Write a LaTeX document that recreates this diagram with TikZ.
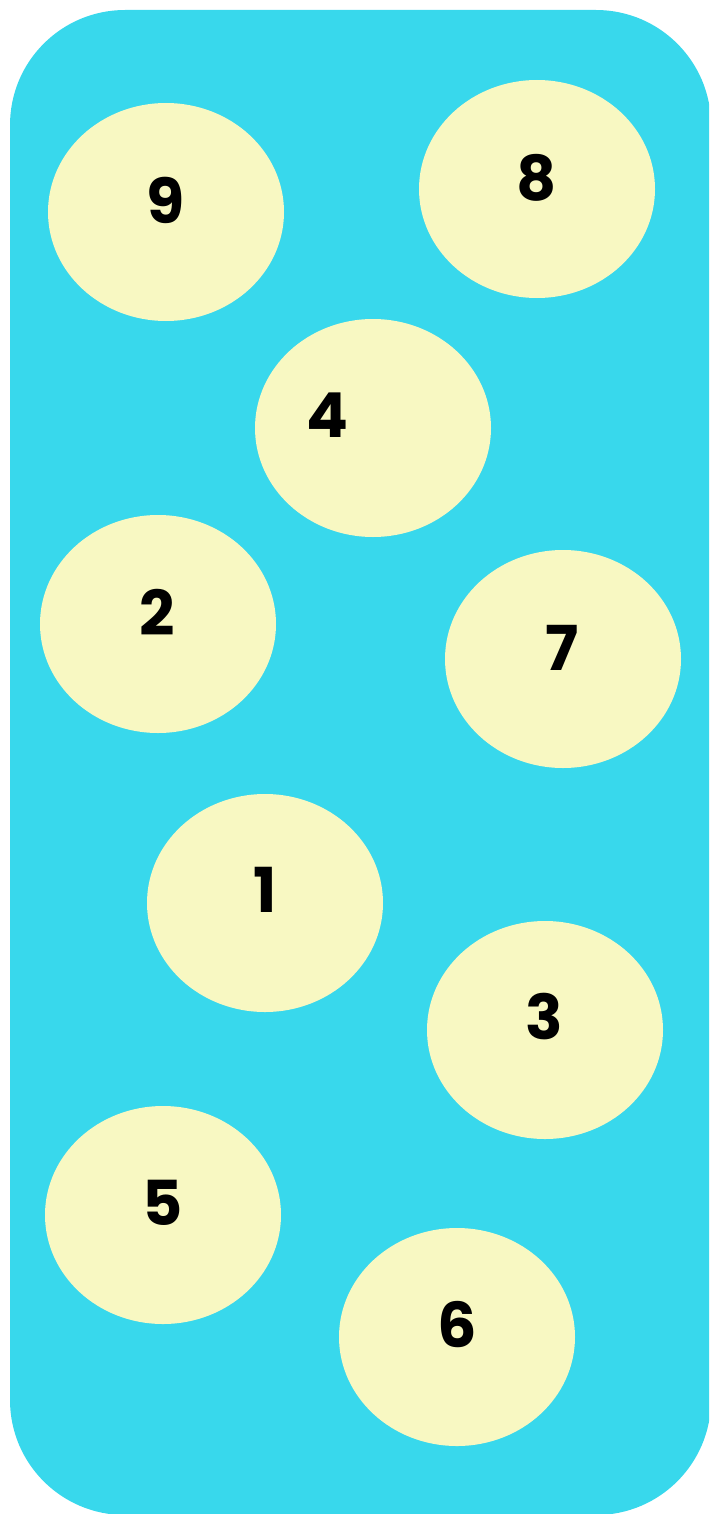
\documentclass[tikz,border=0pt]{standalone}
\usepackage{fontspec}
\setmainfont{Poppins}
\usetikzlibrary{shapes.geometric}
\definecolor{bgcyan}{HTML}{38D8EC}
\definecolor{ballyellow}{HTML}{F8F8C2}
\begin{document}
\begin{tikzpicture}[x=1pt,y=-1pt,
  ball/.style={ellipse, fill=ballyellow, minimum width=236pt, minimum height=218pt, inner sep=0pt},
  num/.style={font=\fontsize{62}{62}\selectfont\bfseries, text=black, inner sep=0pt}]
\useasboundingbox (0,0) rectangle (709,1514);
\begin{scope}
\clip (0,0) rectangle (709,1514);
\fill[bgcyan, rounded corners=115pt] (10,10) rectangle (711,1515);
\end{scope}
\node[ball] (b9) at (166,212) {};
\node[ball] (b8) at (537,189) {};
\node[ball] (b4) at (373,428) {};
\node[ball] (b2) at (158,624) {};
\node[ball] (b7) at (563,659) {};
\node[ball] (b1) at (265,903) {};
\node[ball] (b3) at (545,1030) {};
\node[ball] (b5) at (163,1215) {};
\node[ball] (b6) at (457,1337) {};
\node[num] (t9) at (166,200) {9};
\node[num] (t8) at (537,178) {8};
\node[num] (t4) at (327,415) {4};
\node[num] (t2) at (157,612) {2};
\node[num] (t7) at (562,648) {7};
\node[num] (t1) at (265,890) {1};
\node[num] (t3) at (544,1017) {3};
\node[num] (t5) at (163,1203) {5};
\node[num] (t6) at (457,1325) {6};
\end{tikzpicture}
\end{document}
